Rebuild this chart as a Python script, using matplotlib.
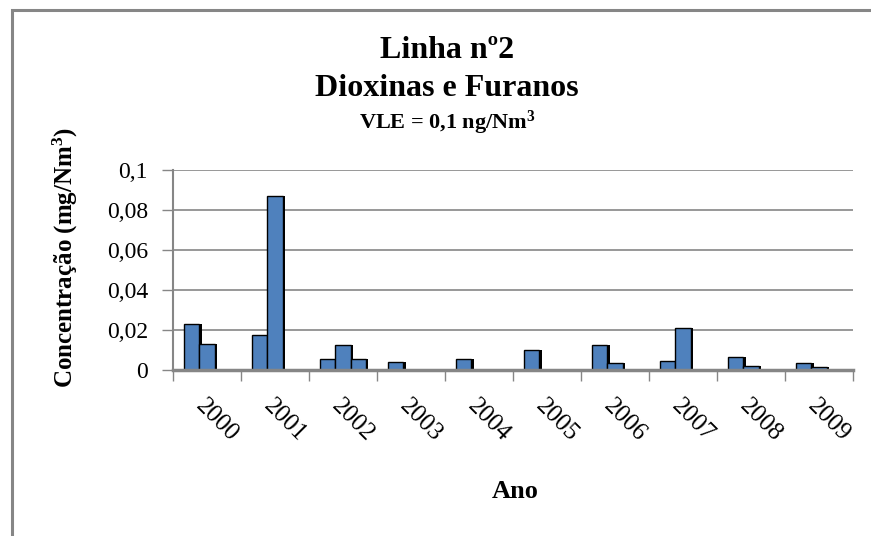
import matplotlib
matplotlib.use('Agg')
import matplotlib.pyplot as plt
import matplotlib.patheffects as pe
from matplotlib.patches import Rectangle
import numpy as np

plt.rcParams['font.family'] = ['Liberation Serif', 'DejaVu Serif']
plt.rcParams['mathtext.default'] = 'regular'

anos = ['2000', '2001', '2002', '2003', '2004', '2005', '2006', '2007', '2008', '2009']
serie1 = [0.0231, 0.0177, 0.0053, 0.0040, 0.0053, 0.0098, 0.0123, 0.0046, 0.0063, 0.0033]
serie2 = [0.0128, 0.0869, 0.0123, 0, 0, 0, 0.0033, 0.0212, 0.0018, 0.0013]
serie3 = [0, 0, 0.0053, 0, 0, 0, 0, 0, 0, 0]
yticks = [0, 0.02, 0.04, 0.06, 0.08, 0.1]
ylabels = ['0', '0,02', '0,04', '0,06', '0,08', '0,1']

cinza = '#868686'
azul = '#4F81BD'

fig = plt.figure(figsize=(8.71, 5.36), dpi=100)
ax = fig.add_axes([173/871, 1 - 370/536, 680/871, 200/536])

# frame round the chart
fig.patches.append(Rectangle((12/871, -0.1), 1.2, 1.1 - 10/536, transform=fig.transFigure,
                             fill=False, edgecolor=cinza, linewidth=2.2))

x = np.arange(len(anos))
w = 1 / 4.5
sombra = [pe.SimplePatchShadow(offset=(1.5, 0), shadow_rgbFace='black', alpha=1), pe.Normal()]
for k, serie in enumerate([serie1, serie2, serie3]):
    for i, v in enumerate(serie):
        if v > 0:
            b = ax.bar(x[i] + (k - 1) * w, v, width=w, color=azul, edgecolor='black',
                       linewidth=1.0, zorder=3)
            b[0].set_path_effects(sombra)

ax.set_xlim(-0.5, len(anos) - 0.5)
ax.set_ylim(0, 0.1)
ax.set_yticks(yticks)
ax.set_yticklabels(ylabels, fontsize=17)
ax.yaxis.grid(True, color=cinza, linewidth=1.2, zorder=0)
ax.set_axisbelow(True)

ax.set_xticks(np.arange(len(anos) + 1) - 0.5)
ax.set_xticklabels([])
ax.set_xticks(x, minor=True)
ax.set_xticklabels(anos, minor=True)
ax.tick_params(axis='x', which='minor', length=0, pad=18, labelsize=18)
for t in ax.get_xticklabels(minor=True):
    t.set_rotation(-45)
    t.set_ha('left')
    t.set_va('top')
    t.set_rotation_mode('anchor')
ax.tick_params(axis='x', which='major', length=8, color=cinza, width=1)
ax.tick_params(axis='y', length=8, color=cinza, width=1, pad=10)

for s in ['top', 'right']:
    ax.spines[s].set_visible(False)
ax.spines['left'].set_color(cinza)
ax.spines['left'].set_linewidth(1.5)
ax.spines['bottom'].set_color(cinza)
ax.spines['bottom'].set_linewidth(2.5)
ax.spines['bottom'].set_zorder(4)

fig.text(447/871, 1 - 50/536, 'Linha nº2', ha='center', va='center', fontsize=23, fontweight='bold')
fig.text(447/871, 1 - 88/536, 'Dioxinas e Furanos', ha='center', va='center', fontsize=23, fontweight='bold')
fig.text(447/871, 1 - 123/536, 'VLE = 0,1 ng/Nm$^3$', ha='center', va='center', fontsize=16, fontweight='bold')
fig.text(65/871, 1 - 257/536, 'Concentração (mg/Nm$^3$)', ha='center', va='center', rotation=90,
         fontsize=18, fontweight='bold')
fig.text(515/871, 1 - 492/536, 'Ano', ha='center', va='center', fontsize=19, fontweight='bold')

fig.savefig('out.png', dpi=100, facecolor='white')
